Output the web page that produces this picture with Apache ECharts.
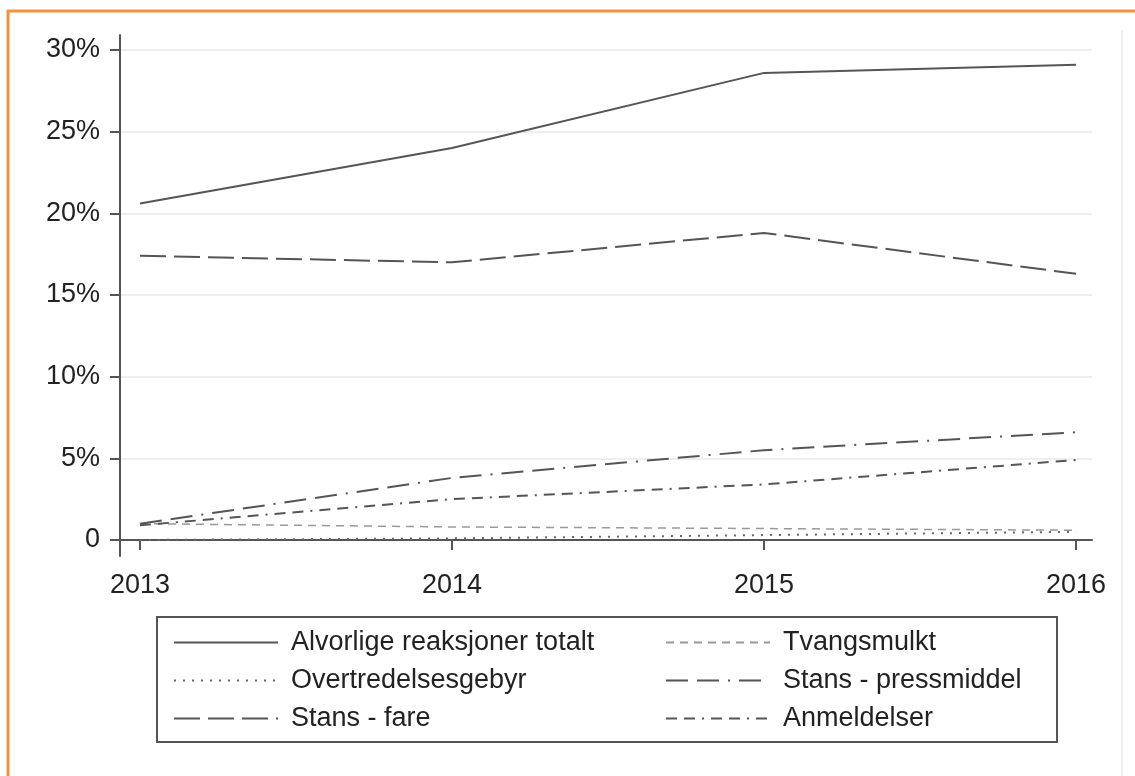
<!DOCTYPE html>
<html>
<head>
<meta charset="utf-8">
<script src="https://cdn.jsdelivr.net/npm/echarts@6/dist/echarts.min.js"></script>
<style>
  html, body { margin: 0; padding: 0; background: #fff; }
  #chart { width: 1135px; height: 776px; }
</style>
</head>
<body>
<div id="chart"></div>
<script>
// years and shares (percent)
var years = [2013, 2014, 2015, 2016];
var yTicks = [0, 5, 10, 15, 20, 25, 30];

var totalt = [20.6, 24.0, 28.6, 29.1];
var overtredelse = [0, 0.1, 0.3, 0.5];
var stansFare = [17.4, 17.0, 18.8, 16.3];
var tvangsmulkt = [1.0, 0.8, 0.7, 0.6];
var stansPress = [1.0, 3.8, 5.5, 6.6];
var anmeldelser = [0.9, 2.5, 3.4, 4.9];

var names = ['Alvorlige reaksjoner totalt', 'Overtredelsesgebyr', 'Stans - fare',
             'Tvangsmulkt', 'Stans - pressmiddel', 'Anmeldelser'];

function pairs(vals) {
    return years.map(function (y, i) { return [y, vals[i]]; });
}

function line(name, vals, dash, color, width) {
    return {
        name: name,
        type: 'line',
        symbol: 'none',
        silent: true,
        data: pairs(vals),
        lineStyle: { color: color, width: width, type: dash },
        itemStyle: { color: color }
    };
}

var txt = '#222';
var font = 'Liberation Sans';

function legendCol(data, left) {
    return {
        data: data,
        orient: 'vertical',
        left: left, top: 624,
        itemWidth: 104, itemHeight: 14, itemGap: 11,
        itemStyle: { opacity: 0 },
        textStyle: { color: txt, fontSize: 27, fontFamily: font, padding: [0, 0, 0, 8] },
        selectedMode: false
    };
}

var myChart = echarts.init(document.getElementById('chart'));
var option = {
    animation: false,
    backgroundColor: '#fff',
    grid: { left: 120, right: 43, top: 35, height: 521 },
    xAxis: {
        type: 'value',
        min: 2012.936,
        max: 2016.051,
        axisLine: { show: true, lineStyle: { color: '#555', width: 2 } },
        axisTick: { show: true, length: 10, lineStyle: { color: '#555', width: 2 }, customValues: years },
        axisLabel: {
            customValues: years, color: txt, fontSize: 27, fontFamily: font, margin: 16,
            formatter: function (v) { return String(v); }
        },
        splitLine: { show: false }
    },
    yAxis: {
        type: 'value',
        min: -0.98,
        max: 30.92,
        axisLine: { show: true, lineStyle: { color: '#555', width: 2 } },
        axisTick: { show: true, length: 10, lineStyle: { color: '#555', width: 2 }, customValues: yTicks },
        axisLabel: {
            customValues: yTicks, color: txt, fontSize: 27, fontFamily: font, margin: 20,
            formatter: function (v) { return v === 0 ? '0' : v + '%'; }
        },
        splitLine: { show: true, lineStyle: { color: '#eeeeee', width: 2 } }
    },
    legend: [
        legendCol(names.slice(0, 3), 168),
        legendCol(names.slice(3), 660)
    ],
    graphic: [
        { type: 'rect', shape: { x: 157, y: 617, width: 900, height: 125 },
          style: { fill: 'none', stroke: '#555', lineWidth: 2 }, silent: true },
        { type: 'line', shape: { x1: 7, y1: 11, x2: 1135, y2: 11 },
          style: { stroke: '#f5913a', lineWidth: 3 }, silent: true },
        { type: 'line', shape: { x1: 8, y1: 10, x2: 8, y2: 776 },
          style: { stroke: '#f5913a', lineWidth: 3 }, silent: true },
        { type: 'line', shape: { x1: 1122, y1: 30, x2: 1122, y2: 776 },
          style: { stroke: '#eeeeee', lineWidth: 2 }, silent: true }
    ],
    series: [
        line(names[0], totalt, 'solid', '#555', 2),
        line(names[1], overtredelse, [2, 7], '#666', 2),
        line(names[2], stansFare, [26, 8], '#555', 2),
        line(names[3], tvangsmulkt, [8, 6], '#999', 1.5),
        line(names[4], stansPress, [22, 9, 22, 9, 2, 9], '#555', 2),
        line(names[5], anmeldelser, [11, 7, 11, 7, 2, 7], '#555', 2)
    ]
};
myChart.setOption(option);
</script>
</body>
</html>
